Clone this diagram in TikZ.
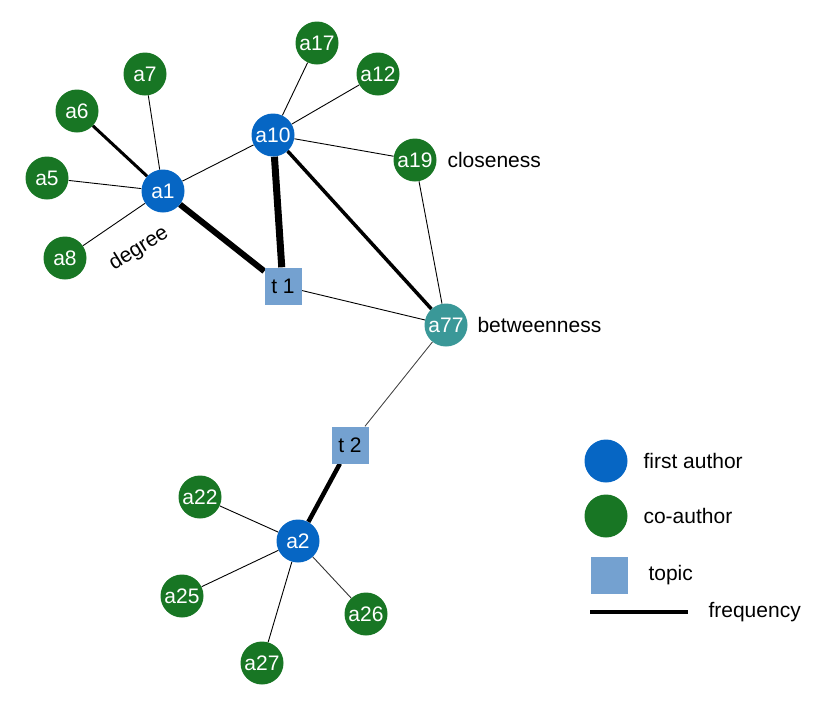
\documentclass[tikz,border=0pt]{standalone}
\usepackage{fontspec}
\setmainfont{Liberation Sans}
\usepackage{xcolor}
\usetikzlibrary{positioning, backgrounds}

\definecolor{firstblue}{RGB}{6,102,196}
\definecolor{coauthgreen}{RGB}{24,118,36}
\definecolor{betwteal}{RGB}{58,152,152}
\definecolor{topicblue}{RGB}{116,161,208}

\begin{document}
\begin{tikzpicture}[
  x=1pt, y=-1pt,
  font=\fontsize{21}{25}\selectfont,
  author/.style={circle, fill=firstblue, text=white, minimum size=43pt, inner sep=0pt},
  coauth/.style={circle, fill=coauthgreen, text=white, minimum size=43pt, inner sep=0pt},
  bridge/.style={circle, fill=betwteal, text=white, minimum size=43pt, inner sep=0pt},
  topic/.style={rectangle, fill=topicblue, text=black, minimum size=37pt, inner sep=0pt},
  tie/.style={draw=black, line width=0.9pt},
  freq/.style={draw=black, line width=#1},
  note/.style={anchor=west, text=black}
]
  \useasboundingbox (0,0) rectangle (825,713);

  % first cluster
  \node[author] (a1)  at (163,191) {a1};
  \node[author] (a10) at (273,135) {a10};
  \node[coauth] (a6)  at (77,111)  {a6};
  \node[coauth] (a7)  at (145,74)  {a7};
  \node[coauth] (a5)  at (47,178)  {a5};
  \node[coauth] (a8)  at (65,258)  {a8};
  \node[coauth] (a17) at (317,43)  {a17};
  \node[coauth] (a12) at (378,74)  {a12};
  \node[coauth] (a19) at (415,160) {a19};
  \node[topic]  (t1)  at (283,286) {t 1};
  \node[bridge] (a77) at (446,325) {a77};

  % second cluster
  \node[topic]  (t2)  at (350,445) {t 2};
  \node[author] (a2)  at (298,541) {a2};
  \node[coauth] (a22) at (200,497) {a22};
  \node[coauth] (a25) at (182,596) {a25};
  \node[coauth] (a26) at (366,614) {a26};
  \node[coauth] (a27) at (262,663) {a27};

  \node[rotate=32, inner sep=0pt] (deg) at (139,249) {degree};
  \node[note] (clo) at (444,160) {closeness};
  \node[note] (bet) at (474,325) {betweenness};

  \begin{scope}[on background layer]
    \draw[tie] (a1) -- (a7);
    \draw[tie] (a1) -- (a5);
    \draw[tie] (a1) -- (a8);
    \draw[tie] (a1) -- (a10);
    \draw[freq=3pt] (a1) -- (a6);
    \draw[freq=6pt] (a1) -- (t1);
    \draw[freq=7pt] (a10) -- (t1);
    \draw[freq=3.5pt] (a10) -- (a77);
    \draw[tie] (a10) -- (a17);
    \draw[tie] (a10) -- (a12);
    \draw[tie] (a10) -- (a19);
    \draw[tie] (t1) -- (a77);
    \draw[tie] (a19) -- (a77);
    \draw[tie, draw=black!70] (a77) -- (t2);
    \draw[freq=4.5pt] (t2) -- (a2);
    \draw[tie] (a2) -- (a22);
    \draw[tie] (a2) -- (a25);
    \draw[tie] (a2) -- (a27);
    \draw[tie, draw=black!80] (a2) -- (a26);
  \end{scope}

  % legend
  \node[author] (legfirst) at (606,461) {};
  \node[note] (legfirsttxt) at (640,461) {first author};
  \node[coauth] (legco) at (606,516) {};
  \node[note] (legcotxt) at (640,516) {co-author};
  \node[topic] (legtopic) at (609,575) {};
  \node[note] (legtopictxt) at (645,575) {topic};
  \coordinate (legl) at (590,612);
  \coordinate (legr) at (688,612);
  \draw[freq=4.5pt] (legl) -- (legr);
  \node[note] (legfreqtxt) at (705,612) {frequency};
\end{tikzpicture}
\end{document}
